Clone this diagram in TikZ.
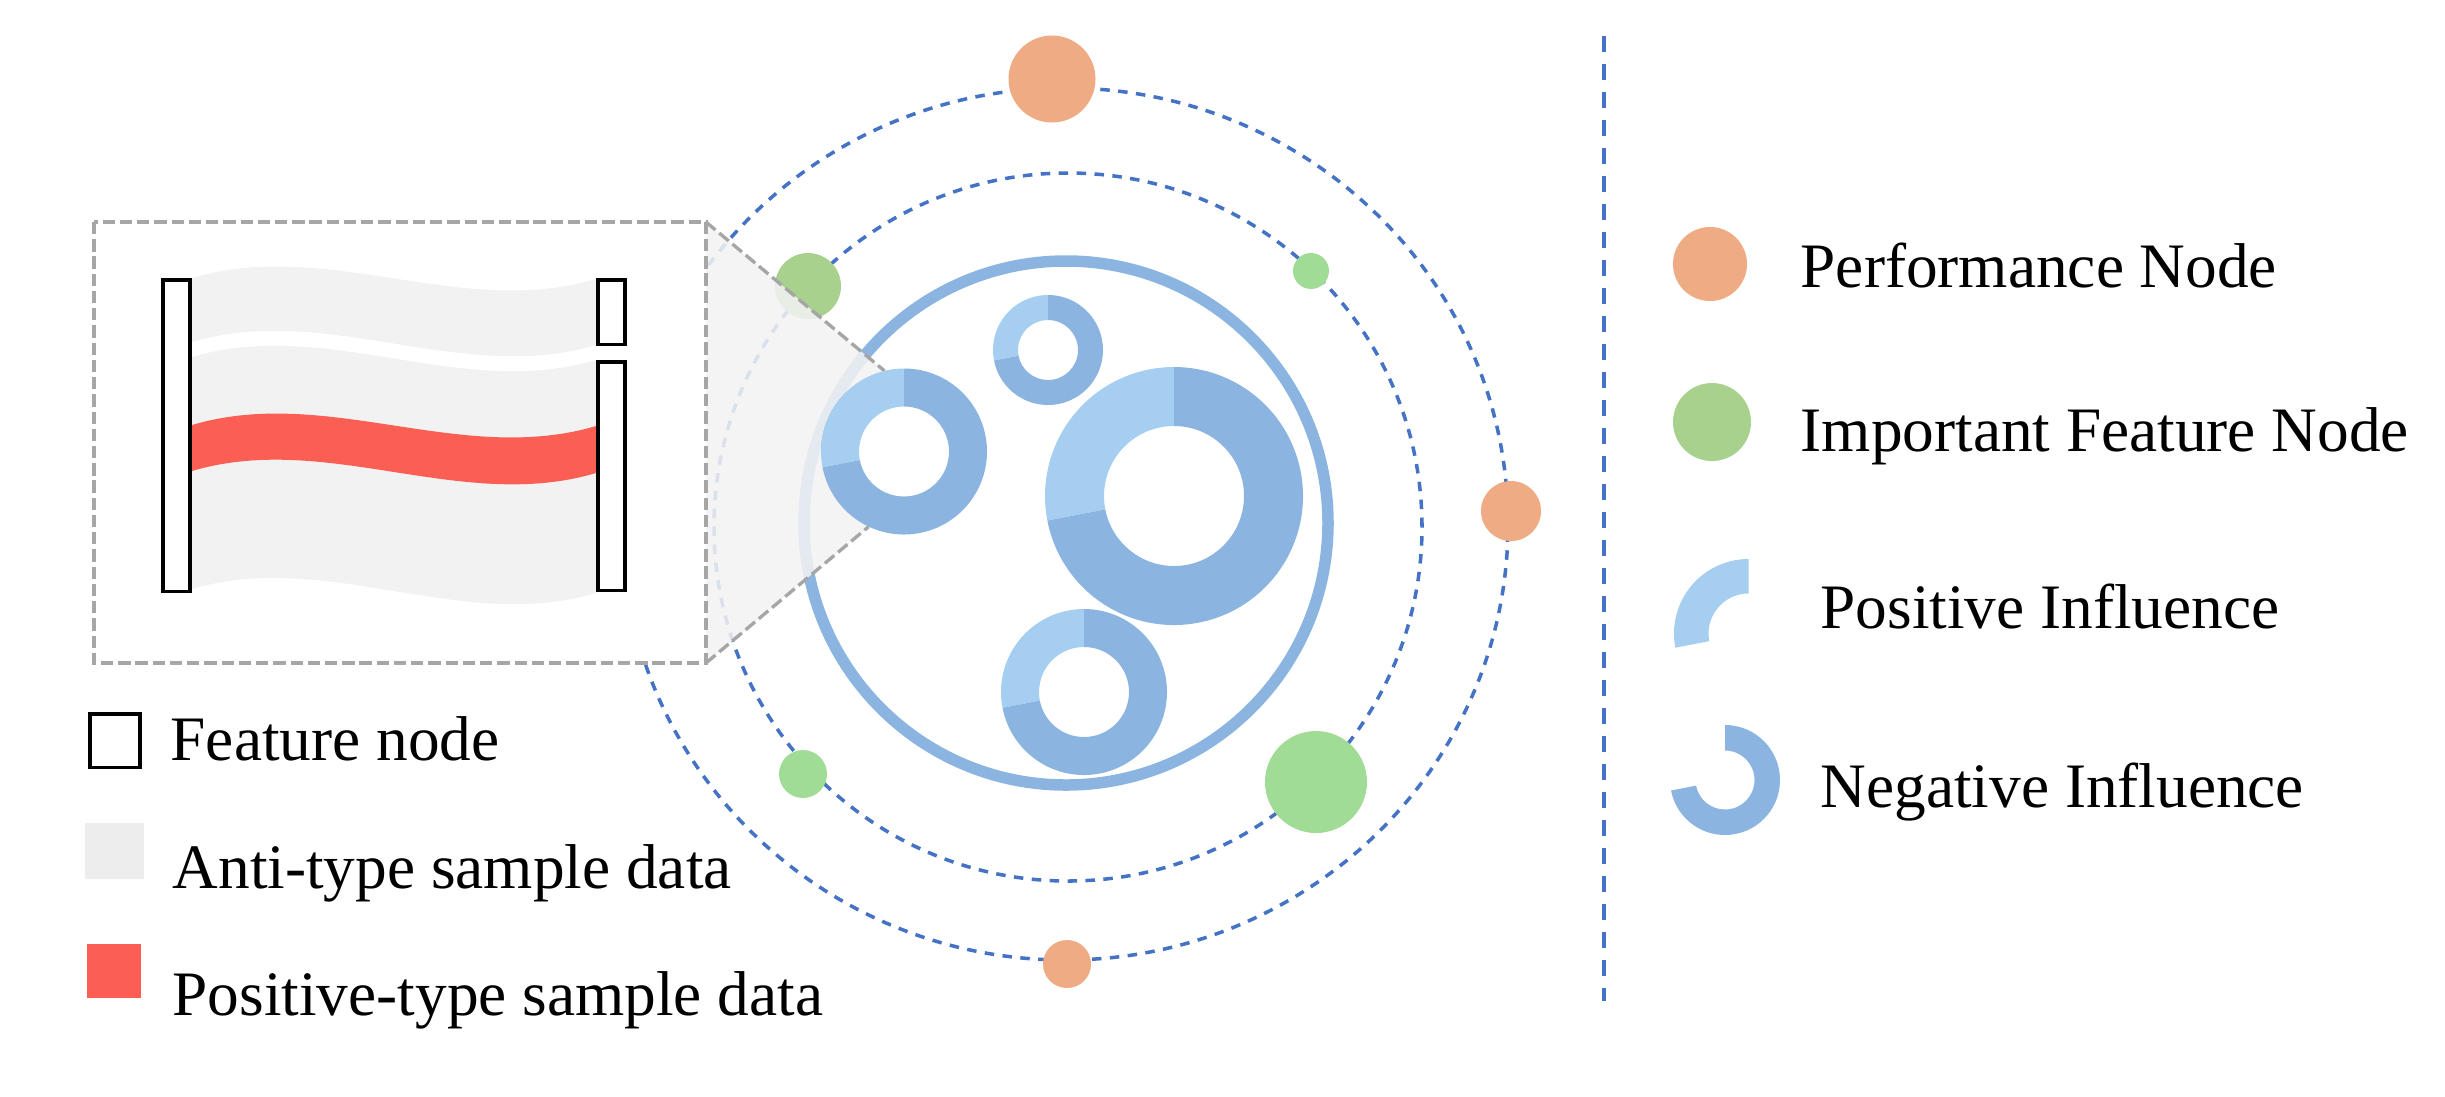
\documentclass[tikz,border=0pt]{standalone}
\usepackage{fontspec}
\setmainfont{Liberation Serif}
\definecolor{blueline}{RGB}{68,114,196}
\definecolor{ringblue}{RGB}{139,181,224}
\definecolor{lightblue}{RGB}{166,206,240}
\definecolor{orangen}{RGB}{239,171,131}
\definecolor{greenA}{RGB}{169,209,142}
\definecolor{greenB}{RGB}{161,220,151}
\definecolor{redflow}{RGB}{251,95,84}
\definecolor{greyflow}{RGB}{242,242,242}
\definecolor{greyleg}{RGB}{237,237,237}
\definecolor{greydash}{RGB}{166,166,166}
\newcommand\myflow[5]{%
  \fill[#1] (192,-#2) .. controls (327,-#2+40) and (461,-#3-40) .. (596,-#3)
    -- (596,-#5) .. controls (461,-#5-40) and (327,-#4+40) .. (192,-#4) -- cycle;}
% annular sector: color, cx, cy, R, r, start, end
\newcommand\mysector[7]{%
  \fill[#1] (#2,#3) ++(#6:#4) arc[start angle=#6, end angle=#7, radius=#4]
    -- ([shift={(#7:#5)}]#2,#3) arc[start angle=#7, end angle=#6, radius=#5] -- cycle;}
\newcommand\mydonut[4]{%
  \mysector{lightblue}{#1}{#2}{#3}{#4}{90}{191}%
  \mysector{ringblue}{#1}{#2}{#3}{#4}{191}{450}}
\begin{document}
\begin{tikzpicture}[x=0.01cm,y=0.01cm,
  orbit/.style={draw=blueline, line width=1pt, dash pattern=on 2.7pt off 2.4pt},
  sep/.style={draw=blueline, line width=1.14pt, dash pattern=on 4.55pt off 3.41pt},
  zoomline/.style={draw=greydash, line width=0.95pt, dash pattern=on 3.5pt off 1.4pt},
  featbox/.style={draw=black, fill=white, line width=1pt},
  lbl/.style={font=\fontsize{18}{22}\selectfont, inner sep=0pt, anchor=base west}]
\useasboundingbox (0,0) rectangle (2445,-1096);

% orbits
\draw[orbit] (1065,-524) ellipse [x radius=443, y radius=436];
\draw[orbit] (1068,-527) circle [radius=354];

% nodes on orbits
\fill[orangen] (1052,-79) circle [radius=43.5];
\fill[orangen] (1511,-511) circle [radius=30];
\fill[orangen] (1067,-964) circle [radius=24];
\fill[greenA] (808,-286) circle [radius=33];
\fill[greenB] (1311,-271) circle [radius=18];
\fill[greenB] (803,-774) circle [radius=24];
\fill[greenB] (1316,-782) circle [radius=51];

% big ring
\draw[ringblue, line width=3.27pt] (1066,-523) circle [radius=262];

% zoom shadow
\coordinate (boxTR) at (706,-222);
\coordinate (boxBR) at (706,-663);
\coordinate (dOne) at (904,-451.5);
\coordinate (dUp) at ([shift={(103.6:83)}]dOne);
\coordinate (dLo) at ([shift={(244.8:83)}]dOne);
\fill[greyflow, fill opacity=0.87] (boxTR) -- (dUp)
  arc[start angle=103.6, end angle=244.8, radius=83] -- (boxBR) -- cycle;

% zoom box
\draw[zoomline, fill=white] (94,-222) rectangle (706,-663);
\draw[zoomline] (boxTR) -- (dUp);
\draw[zoomline] (boxBR) -- (dLo);

% flows
\myflow{greyflow}{278}{279}{342}{345}
\myflow{greyflow}{357}{360}{589}{593}
\myflow{redflow}{425}{426}{471}{473}

% feature nodes in the box
\draw[featbox] (162.75,-279.75) rectangle (190.25,-591.25);
\draw[featbox] (597.75,-279.75) rectangle (625.25,-344.25);
\draw[featbox] (597.75,-361.75) rectangle (625.25,-590.25);

% donuts
\mydonut{904}{-451.5}{83}{45}
\mydonut{1048}{-350}{55}{30}
\mydonut{1174}{-496}{129}{70}
\mydonut{1084}{-692}{83}{45}

% separator
\coordinate (sepTop) at (1604,-36);
\coordinate (sepBot) at (1604,-1001);
\draw[sep] (sepTop) -- (sepBot);

% right legend
\fill[orangen] (1710,-264) circle [radius=37];
\fill[greenA] (1712,-422) circle [radius=39];
\mysector{lightblue}{1748.5}{-633.5}{74.5}{40}{90}{191}
\mysector{ringblue}{1725}{-780}{55}{29.5}{191}{450}
\node[lbl] (lperf) at (1800,-287) {Performance Node};
\node[lbl] (limp) at (1800,-451) {Important Feature Node};
\node[lbl] (lpos) at (1820,-628) {Positive Influence};
\node[lbl] (lneg) at (1820,-807) {Negative Influence};

% left legend
\draw[featbox] (89.75,-713.75) rectangle (140.25,-767.25);
\fill[greyleg] (84.5,-823) rectangle (144,-879);
\fill[redflow] (86.5,-944) rectangle (141,-998);
\node[lbl] (lfeat) at (170,-760) {Feature node};
\node[lbl] (lanti) at (172,-888) {Anti-type sample data};
\node[lbl] (lposs) at (172,-1015) {Positive-type sample data};
\end{tikzpicture}
\end{document}
